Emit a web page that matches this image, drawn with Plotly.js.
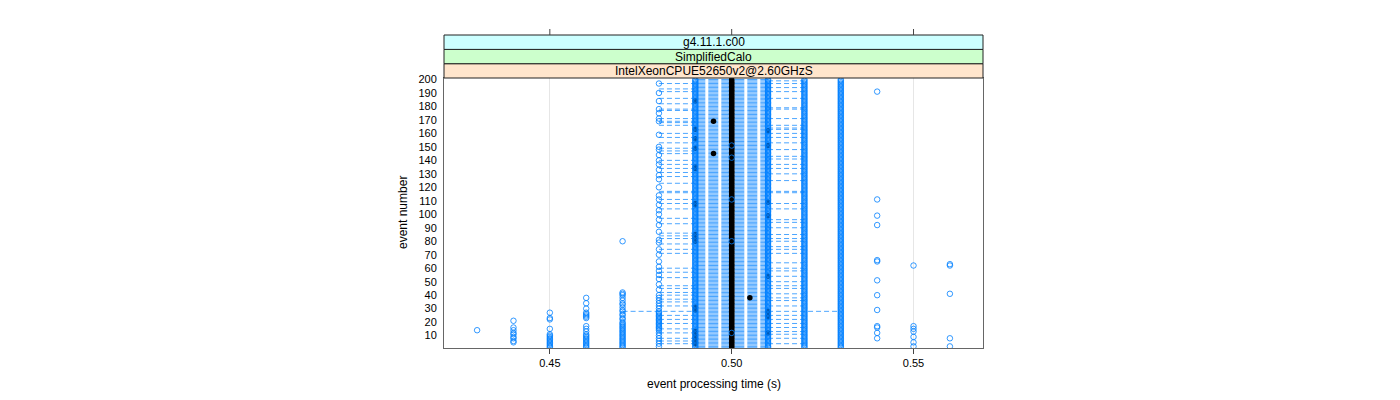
<!DOCTYPE html>
<html><head><meta charset="utf-8">
<script src="https://cdn.plot.ly/plotly-3.0.1.min.js"></script>
<style>html,body{margin:0;padding:0;background:#fff}#plot{width:1400px;height:400px}</style>
</head><body><div id="plot"></div>
<script>
// ---- data ----
const eventFirst = 1;
const eventLast = 200;
const stripLabels = ['g4.11.1.c00', 'SimplifiedCalo', 'IntelXeonCPUE52650v2@2.60GHzS'];
const xTickVals = [0.45, 0.50, 0.55];
const xTickText = ['0.45', '0.50', '0.55'];
const yTickVals = [10,20,30,40,50,60,70,80,90,100,110,120,130,140,150,160,170,180,190,200];

// time columns (s) observed in every event
const fullColumnTimes = [0.49, 0.51, 0.52, 0.53];
// sparse time columns and the events in which they occur
const ev043 = [14];
const ev044 = [5,6,8,9,11,12,14,16,21];
const ev045 = [1,2,3,4,5,6,7,8,9,10,11,15,22,23,27];
const ev046 = [1,2,3,4,5,6,7,8,9,10,11,13,15,17,23,24,25,26,27,30,34,38];
const ev047 = [1,2,3,4,5,6,7,8,9,10,11,12,13,14,15,16,17,18,19,20,22,23,25,26,28,29,31,33,34,36,38,40,41,42,80];
const ev048 = [2,4,6,8,10,12,14,15,16,17,18,19,20,21,22,23,24,25,26,27,28,30,32,34,36,38,40,44,48,52,55,58,61,65,70,74,79,81,87,92,96,100,103,107,111,114,120,126,129,133,137,140,144,148,150,159,169,171,175,178,184,190,197];
const ev050 = [12,80,111,142,151];
const ev054 = [8,12,16,17,29,40,51,65,66,92,99,111,191];
const ev055 = [2,5,9,13,15,17,62];
const ev056 = [2,8,41,62,63];
const sparseColumnTimes = [0.43, 0.44, 0.45, 0.46, 0.47, 0.48, 0.50, 0.54, 0.55, 0.56];
const sparseColumnEvents = [ev043, ev044, ev045, ev046, ev047, ev048, ev050, ev054, ev055, ev056];

// black (median) points: a full column at 0.50 plus these events elsewhere
const medianColumnTime = 0.50;
const med049Events = [4,5,6,8,9,11,13,29,31,80,81,82,83,84,85,107,108,134,135,149,156,163,184];
const med0495Events = [145,169];
const med0505Events = [38];
const med051Events = [12,24,26,28,54,99,109,151,162];

// per-event connecting (dashed) line extent
const lineCoreLow = 0.49;
const lineCoreHigh = 0.51;
const lineLeftLow = 0.48;
const lineRightHigh = 0.52;
const lineLeftEvents = [4,6,8,12,15,19,22,25,28,32,35,37,40,42,45,47,53,57,60,71,74,78,82,84,86,93,97,104,108,111,116,117,123,128,131,134,137,140,145,147,149,153,157,160,166,168,169,171,177,178,182,186,191,193,197];
const lineRightEvents = [4,8,11,13,16,19,22,25,28,32,36,38,41,45,47,50,54,58,60,64,71,74,76,80,82,85,90,94,96,104,108,116,117,125,130,134,137,141,143,148,153,157,160,163,164,166,171,178,179,186,191,194,197,199];
const lineWideEvents = [28];
const lineWideLow = 0.47;
const lineWideHigh = 0.53;

// ---- build traces ----
const allEvents = [];
for (let e = eventFirst; e <= eventLast; e++) allEvents.push(e);

const ptX = [], ptY = [];
fullColumnTimes.forEach(t => allEvents.forEach(e => { ptX.push(t); ptY.push(e); }));
sparseColumnTimes.forEach((t, i) => sparseColumnEvents[i].forEach(e => { ptX.push(t); ptY.push(e); }));

const medX = [], medY = [];
allEvents.forEach(e => { medX.push(medianColumnTime); medY.push(e); });
[[0.49, med049Events], [0.495, med0495Events], [0.505, med0505Events], [0.51, med051Events]]
  .forEach(([t, list]) => list.forEach(e => { medX.push(t); medY.push(e); }));

const coreX = [], coreY = [], extX = [], extY = [];
allEvents.forEach(e => {
  coreX.push(lineCoreLow, lineCoreHigh, null); coreY.push(e, e, null);
  if (lineWideEvents.includes(e)) {
    extX.push(lineWideLow, lineCoreLow, null, lineCoreHigh, lineWideHigh, null);
    extY.push(e, e, null, e, e, null);
    return;
  }
  if (lineLeftEvents.includes(e)) { extX.push(lineLeftLow, lineCoreLow, null); extY.push(e, e, null); }
  if (lineRightEvents.includes(e)) { extX.push(lineCoreHigh, lineRightHigh, null); extY.push(e, e, null); }
});

const traces = [
  { type: 'scatter', mode: 'lines', x: extX, y: extY, hoverinfo: 'skip',
    line: { color: 'rgba(0,128,255,0.7)', width: 1, dash: '5px,3px' } },
  { type: 'scatter', mode: 'lines', x: coreX, y: coreY, hoverinfo: 'skip',
    line: { color: 'rgba(0,128,255,0.95)', width: 0.75, dash: '10px,3px' } },
  { type: 'scatter', mode: 'markers', x: medX, y: medY, hoverinfo: 'skip',
    marker: { symbol: 'circle', size: 5.5, color: '#000000', line: { width: 0 } } },
  { type: 'scatter', mode: 'markers', x: ptX, y: ptY, hoverinfo: 'skip',
    marker: { symbol: 'circle-open', size: 5.5, color: 'rgba(0,128,255,0.8)', line: { width: 1, color: 'rgba(0,128,255,0.8)' } } }
];

// strip geometry in paper units (panel height 270 px)
const H = 270;
const stripEdges = [1, 1 + 14.3 / H, 1 + 28.6 / H, 1 + 43 / H];
const stripColors = ['#ffe5cc', '#ccffcc', '#ccffff'];
const stripOrder = [2, 1, 0];
const shapes = [];
const annotations = [];
for (let i = 0; i < 3; i++) {
  shapes.push({ type: 'rect', xref: 'paper', yref: 'paper', x0: 0, x1: 1, y0: stripEdges[i], y1: stripEdges[i + 1],
    fillcolor: stripColors[i], line: { color: '#222', width: 1 }, layer: 'above' });
  annotations.push({ xref: 'paper', yref: 'paper', x: 0.5, y: (stripEdges[i] + stripEdges[i + 1]) / 2,
    text: stripLabels[stripOrder[i]], showarrow: false, xanchor: 'center', yanchor: 'middle',
    font: { family: 'Liberation Sans, Arial, sans-serif', size: 12, color: '#000' } });
}
xTickVals.forEach(v => shapes.push({ type: 'line', xref: 'x', yref: 'paper', x0: v, x1: v,
  y0: 1 + 43 / H, y1: 1 + 49 / H, line: { color: '#444', width: 1 } }));

annotations.push({ xref: 'paper', yref: 'paper', x: 0.5, y: -36 / H, text: 'event processing time (s)',
  showarrow: false, xanchor: 'center', yanchor: 'middle', font: { family: 'Liberation Sans, Arial, sans-serif', size: 12, color: '#000' } });
annotations.push({ xref: 'paper', yref: 'paper', x: -41 / 539, y: 0.5, text: 'event number', textangle: -90,
  showarrow: false, xanchor: 'center', yanchor: 'middle', font: { family: 'Liberation Sans, Arial, sans-serif', size: 12, color: '#000' } });

const layout = {
  width: 1400, height: 400,
  margin: { l: 444, r: 417, t: 78, b: 52, pad: 0 },
  paper_bgcolor: '#ffffff', plot_bgcolor: '#ffffff',
  showlegend: false, hovermode: false,
  font: { family: 'Liberation Sans, Arial, sans-serif', size: 11, color: '#000' },
  xaxis: { range: [0.4209, 0.5691], tickvals: xTickVals, ticktext: xTickText, ticks: 'outside', ticklen: 5,
    tickcolor: '#444', showgrid: true, gridcolor: '#e6e6e6', gridwidth: 1, zeroline: false,
    showline: true, mirror: true, linecolor: '#666', linewidth: 1, tickfont: { size: 11 } },
  yaxis: { range: [0.8, 201.1], tickvals: yTickVals, ticks: 'outside', ticklen: 4, tickcolor: 'rgba(0,0,0,0)',
    showgrid: false, zeroline: false, showline: true, mirror: true, linecolor: '#666', linewidth: 1, tickfont: { size: 11 } },
  shapes: shapes, annotations: annotations
};

Plotly.newPlot('plot', traces, layout, { displayModeBar: false, staticPlot: true });
</script></body></html>
